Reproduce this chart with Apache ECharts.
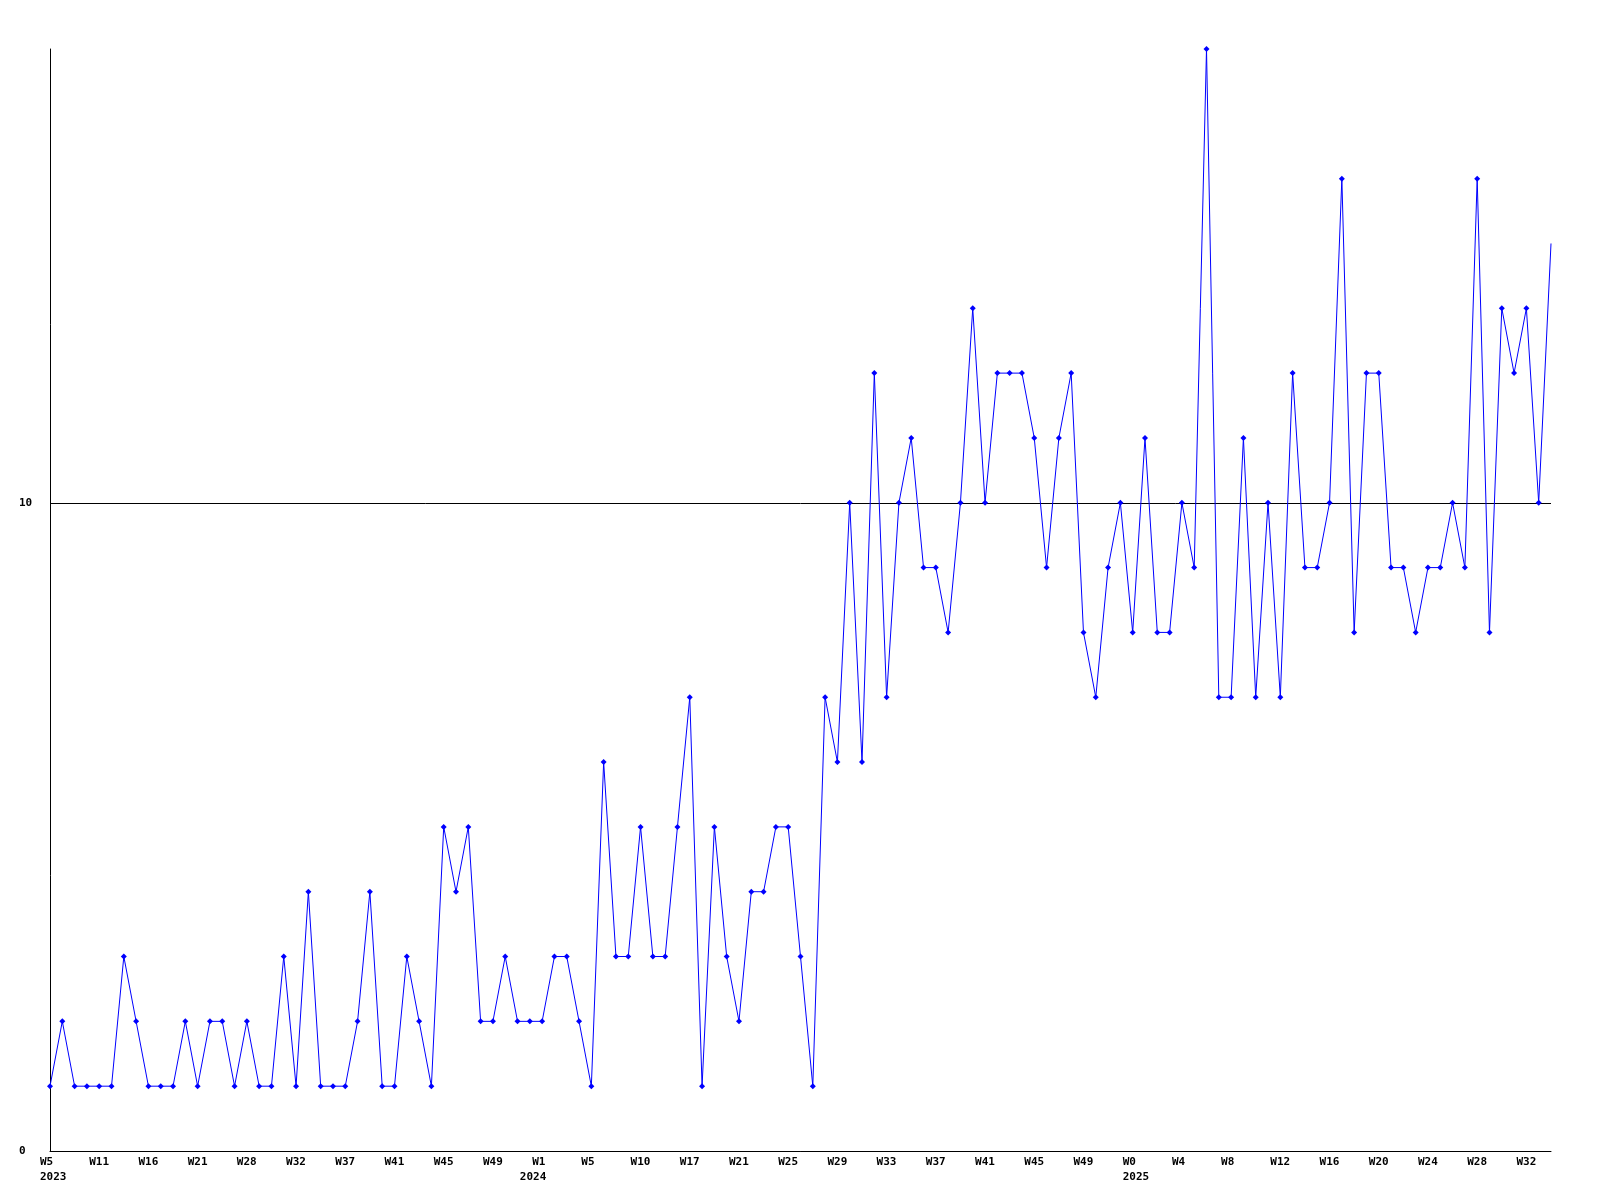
<!DOCTYPE html>
<html>
<head>
<meta charset="utf-8">
<script src="https://cdn.jsdelivr.net/npm/echarts@6/dist/echarts.min.js"></script>
<style>html,body{margin:0;padding:0;background:#fff}#c{width:1600px;height:1200px}</style>
</head>
<body>
<div id="c"></div>
<script>
// Week tick labels, one every 4 points
var tickLabels = ['W5','W11','W16','W21','W28','W32','W37','W41','W45','W49',
  'W1','W5','W10','W17','W21','W25','W29','W33','W37','W41','W45','W49',
  'W0','W4','W8','W12','W16','W20','W24','W28','W32'];

// Year labels and the point index where each one sits
var yearLabels = ['2023', '2024', '2025'];
var yearIndex = [0, 39, 88];

// Weekly values
var values = [
  1,2,1,1,1,1,3,2,1,1,
  1,2,1,2,2,1,2,1,1,3,
  1,4,1,1,1,2,4,1,1,3,
  2,1,5,4,5,2,2,3,2,2,
  2,3,3,2,1,6,3,3,5,3,
  3,5,7,1,5,3,2,4,4,5,
  5,3,1,7,6,10,6,12,7,10,
  11,9,9,8,10,13,10,12,12,12,
  11,9,11,12,8,7,9,10,8,11,
  8,8,10,9,17,7,7,11,7,10,
  7,12,9,9,10,15,8,12,12,9,
  9,8,9,9,10,9,15,8,13,12,
  13,10,14
];

var categories = [];
for (var i = 0; i < values.length; i++) {
  categories.push(i % 4 === 0 ? tickLabels[i / 4] + '#' + i : (tickLabels[Math.floor(i / 4)] + '+' + (i % 4)));
}
var seriesData = values.map(function (v, i) {
  return i === values.length - 1 ? { value: v, symbol: 'none' } : v;
});

var font = '"DejaVu Sans Mono", monospace';
var labelBase = {
  align: 'left',
  padding: [0, 0, 0, -10],
  color: '#000',
  fontFamily: font,
  fontWeight: 'bold',
  fontSize: 11
};
var chart = echarts.init(document.getElementById('c'), null, { renderer: 'canvas' });
chart.setOption({
  animation: false,
  backgroundColor: '#ffffff',
  grid: { left: 50, right: 49, top: 49, bottom: 49, containLabel: false },
  xAxis: [{
    type: 'category',
    data: categories,
    boundaryGap: false,
    axisLine: { show: true, lineStyle: { color: '#000', width: 1 } },
    axisTick: { show: false },
    splitLine: { show: false },
    axisLabel: Object.assign({}, labelBase, {
      interval: 3,
      margin: 6,
      formatter: function (v) { return v.split('#')[0]; }
    })
  }, {
    type: 'category',
    data: categories,
    boundaryGap: false,
    position: 'bottom',
    axisLine: { show: false },
    axisTick: { show: false },
    splitLine: { show: false },
    axisLabel: Object.assign({}, labelBase, {
      margin: 21,
      interval: function (idx) { return yearIndex.indexOf(idx) >= 0; },
      formatter: function (v, idx) { return yearLabels[yearIndex.indexOf(idx)]; }
    })
  }],
  yAxis: {
    type: 'value',
    min: 0,
    max: 17,
    interval: 10,
    axisLine: { show: true, lineStyle: { color: '#000', width: 1 } },
    axisTick: { show: false },
    splitLine: { show: true, showMaxLine: false, lineStyle: { color: '#000', width: 1 } },
    axisLabel: {
      showMaxLabel: false,
      align: 'left',
      margin: 31,
      color: '#000',
      fontFamily: font,
      fontWeight: 'bold',
      fontSize: 11
    }
  },
  series: [{
    type: 'line',
    data: seriesData,
    symbol: 'diamond',
    symbolSize: 6,
    showSymbol: true,
    showAllSymbol: true,
    lineStyle: { color: '#0000ff', width: 1 },
    itemStyle: { color: '#0000ff' },
    clip: false
  }]
});
</script>
</body>
</html>
